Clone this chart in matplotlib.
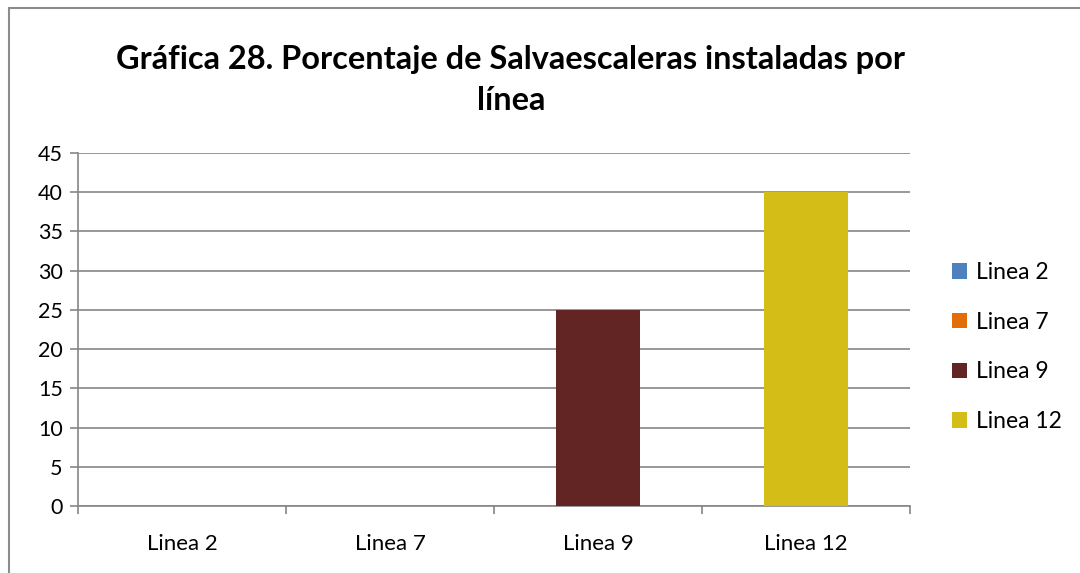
import matplotlib
matplotlib.use("Agg")
import matplotlib.pyplot as plt
from matplotlib.patches import Rectangle, Patch

# Chart data
categories = ['Linea 2', 'Linea 7', 'Linea 9', 'Linea 12']
values = [0, 0, 25, 40]
colors = ['#4F81BD', '#E46C0A', '#632523', '#D3BD16']

plt.rcParams['font.family'] = ['Lato', 'DejaVu Sans']

fig = plt.figure(figsize=(10.8, 5.73), dpi=100)
ax = fig.add_axes([78 / 1080, 1 - 506 / 573, (910 - 78) / 1080, (506 - 153) / 573])

# Outer chart border (runs past the right/bottom edge as in the source)
fig.patches.append(Rectangle((9 / 1080, -0.01), 1.1, 1 - 8 / 573 + 0.01,
                             transform=fig.transFigure, fill=False,
                             edgecolor='#8C8C8C', linewidth=1.5))

x = range(len(categories))
ax.bar(x, values, width=0.4, color=colors, zorder=3)

ax.set_xlim(-0.5, len(categories) - 0.5)
ax.set_ylim(0, 45)
ax.set_yticks(range(0, 46, 5))
ax.set_xticks(list(x))
ax.set_xticklabels(categories)
ax.set_xticks([i - 0.5 for i in range(len(categories) + 1)], minor=True)
ax.tick_params(axis='x', which='major', length=0, pad=20, labelsize=16)
ax.tick_params(axis='x', which='minor', length=6, color='#868686', width=1.2)
ax.tick_params(axis='y', length=6, color='#868686', width=1.2, labelsize=15.5, pad=5)

ax.grid(axis='y', color='#868686', linewidth=1.2, zorder=0)
for side in ['top', 'right']:
    ax.spines[side].set_visible(False)
for side in ['left', 'bottom']:
    ax.spines[side].set_color('#868686')
    ax.spines[side].set_linewidth(1.2)

fig.text(0.473, 1 - 60 / 573, 'Gráfica 28. Porcentaje de Salvaescaleras instaladas por',
         ha='center', va='center', fontsize=23.4, fontweight='bold')
fig.text(0.473, 1 - 101 / 573, 'línea', ha='center', va='center',
         fontsize=23.4, fontweight='bold')

handles = [Patch(facecolor=c, edgecolor='none') for c in colors]
fig.legend(handles, categories, loc='center left', bbox_to_anchor=(931 / 1080, 1 - 347 / 573),
           frameon=False, fontsize=16.5, handlelength=0.65, handleheight=0.65,
           handletextpad=0.4, labelspacing=1.25)

fig.savefig('out.png', dpi=100)
